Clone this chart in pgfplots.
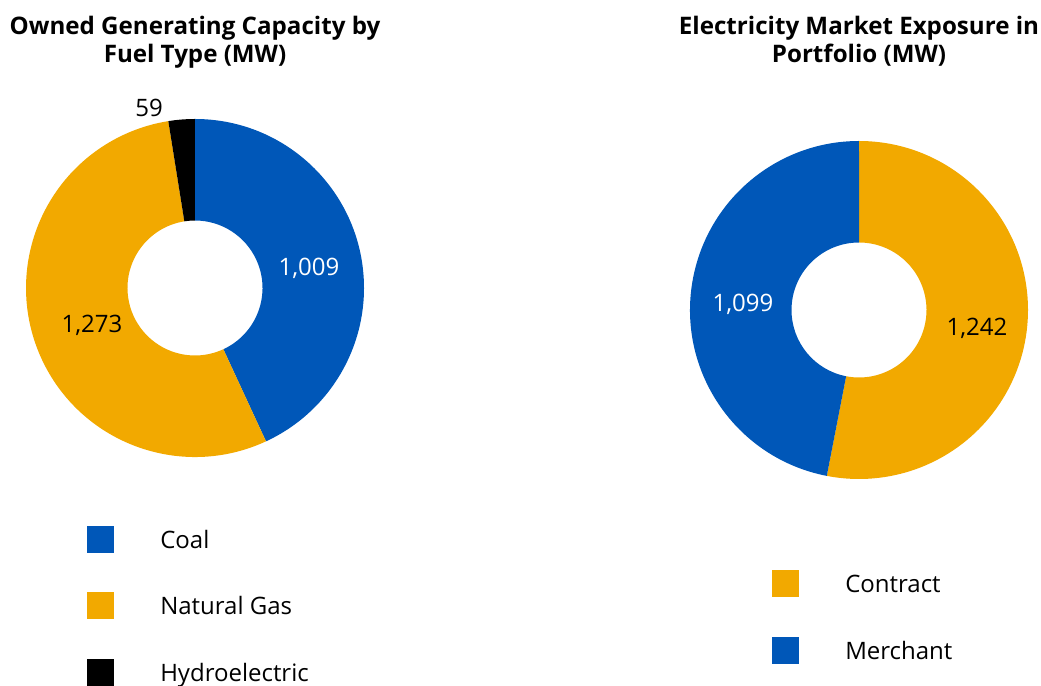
\documentclass[border=0pt]{standalone}
\usepackage{pgfplots}
\pgfplotsset{compat=1.18}
\usepackage{pgfplotstable}
\usepackage{fontspec}
\setmainfont{Open Sans}
\definecolor{cblue}{HTML}{0057B8}
\definecolor{cgold}{HTML}{F2A900}

\pgfplotstableread{
value
1009
1273
59
}\fueltable
\pgfplotstableread{
value
1242
1099
}\markettable

% px -> pt : 0.75
\def\Ro{169}
\def\Ri{67.5}
\newcommand\donutwedge[5]{%
  \pgfmathsetmacro\xa{#2+\Ro*cos(#4)}%
  \pgfmathsetmacro\ya{#3+\Ro*sin(#4)}%
  \pgfmathsetmacro\xb{#2+\Ri*cos(#5)}%
  \pgfmathsetmacro\yb{#3+\Ri*sin(#5)}%
  \pgfmathsetmacro\RoPt{\Ro*0.75}%
  \pgfmathsetmacro\RiPt{\Ri*0.75}%
  \edef\tmpcmd{\noexpand\fill[#1] (axis cs:\xa,\ya) arc[start angle=#4, end angle=#5, radius=\RoPt pt] -- (axis cs:\xb,\yb) arc[start angle=#5, end angle=#4, radius=\RiPt pt] -- cycle;}%
  \tmpcmd}

\begin{document}
\fontsize{18}{22}\selectfont
\begin{tikzpicture}[font=\fontsize{18}{22}\selectfont]
\pgfplotstablegetelem{0}{value}\of\fueltable \edef\vA{\pgfplotsretval}
\pgfplotstablegetelem{1}{value}\of\fueltable \edef\vB{\pgfplotsretval}
\pgfplotstablegetelem{2}{value}\of\fueltable \edef\vC{\pgfplotsretval}
\pgfmathsetmacro\totL{\vA+\vB+\vC}
\pgfmathsetmacro\aLa{90-360*(\vA/\totL)}
\pgfmathsetmacro\aLb{\aLa-360*(\vB/\totL)}
\pgfmathsetmacro\aLc{\aLb-360*(\vC/\totL)}
\pgfplotstablegetelem{0}{value}\of\markettable \edef\wA{\pgfplotsretval}
\pgfplotstablegetelem{1}{value}\of\markettable \edef\wB{\pgfplotsretval}
\pgfmathsetmacro\totR{\wA+\wB}
\pgfmathsetmacro\aRa{90-360*(\wA/\totR)}
\pgfmathsetmacro\aRb{\aRa-360*(\wB/\totR)}
\begin{axis}[scale only axis, width=780.75pt, height=513.75pt,
  xmin=0, xmax=1041, ymin=-685, ymax=0, hide axis, clip=false]
  % left donut
  \donutwedge{cblue}{195}{-288}{90}{\aLa}
  \donutwedge{cgold}{195}{-288}{\aLa}{\aLb}
  \donutwedge{black}{195}{-288}{\aLb}{\aLc}
  % right donut
  \donutwedge{cgold}{859}{-310}{90}{\aRa}
  \donutwedge{cblue}{859}{-310}{\aRa}{\aRb}
  % value labels
  \node[white] at (axis cs:309,-268) {1,009};
  \node[black] at (axis cs:92,-325) {1,273};
  \node[black] at (axis cs:149,-108) {59};
  \node[white] at (axis cs:743,-304) {1,099};
  \node[black] at (axis cs:977,-328) {1,242};
  % titles
  \node[anchor=base, inner sep=0pt, font=\fontsize{18.1}{21}\selectfont\bfseries] at (axis cs:195,-35) {Owned Generating Capacity by};
  \node[anchor=base, inner sep=0pt, font=\fontsize{18.1}{21}\selectfont\bfseries] at (axis cs:195,-63) {Fuel Type (MW)};
  \node[anchor=base, inner sep=0pt, font=\fontsize{18.1}{21}\selectfont\bfseries] at (axis cs:859,-35) {Electricity Market Exposure in};
  \node[anchor=base, inner sep=0pt, font=\fontsize{18.1}{21}\selectfont\bfseries] at (axis cs:859,-63) {Portfolio (MW)};
  % legends
  \fill[cblue] (axis cs:86.5,-526) rectangle (axis cs:113.5,-553);
  \node[anchor=base west, inner sep=0pt] at (axis cs:160,-549) {Coal};
  \fill[cgold] (axis cs:86.5,-592.5) rectangle (axis cs:113.5,-619.5);
  \node[anchor=base west, inner sep=0pt] at (axis cs:160,-615) {Natural Gas};
  \fill[black] (axis cs:86.5,-659) rectangle (axis cs:113.5,-686);
  \node[anchor=base west, inner sep=0pt] at (axis cs:160,-681) {Hydroelectric};
  \fill[cgold] (axis cs:771.5,-570) rectangle (axis cs:798.5,-597);
  \node[anchor=base west, inner sep=0pt] at (axis cs:845,-593) {Contract};
  \fill[cblue] (axis cs:771.5,-637) rectangle (axis cs:798.5,-664);
  \node[anchor=base west, inner sep=0pt] at (axis cs:845,-659) {Merchant};
\end{axis}
\pgfresetboundingbox
\useasboundingbox (current axis.south west) rectangle (current axis.north east);
\end{tikzpicture}
\end{document}
